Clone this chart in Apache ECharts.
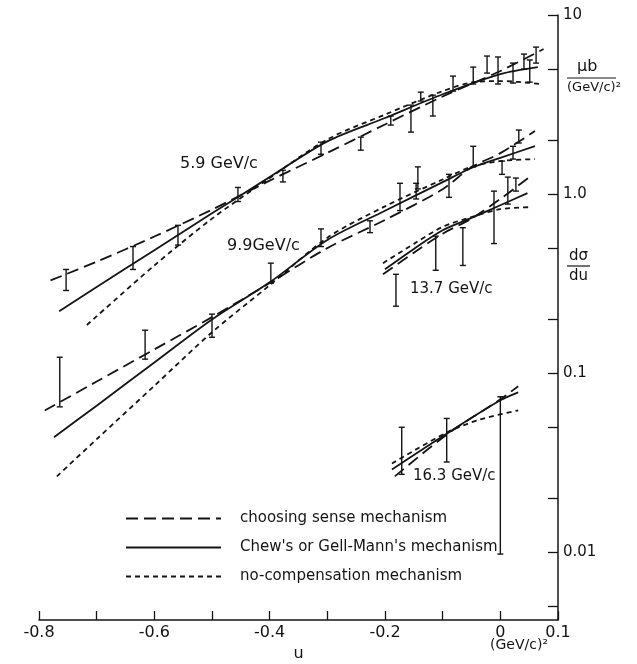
<!DOCTYPE html>
<html>
<head>
<meta charset="utf-8">
<script src="https://cdn.jsdelivr.net/npm/echarts@6/dist/echarts.min.js"></script>
<style>
  html, body { margin: 0; padding: 0; background: #fff; }
  #chart { width: 637px; height: 664px; }
</style>
</head>
<body>
<div id="chart"></div>
<script>
// axis ticks and labels
const xLabelValues = [-0.8, -0.6, -0.4, -0.2, 0, 0.1];
const xLabels = ['-0.8', '-0.6', '-0.4', '-0.2', '0', '0.1'];
const yTickValues = [0.005, 0.01, 0.02, 0.05, 0.1, 0.2, 0.5, 1, 2, 5, 10];
const yLabelValues = [0.01, 0.1, 1, 10];
const yLabels = ['0.01', '0.1', '1.0', '10'];

const mechanisms = ['choosing sense mechanism', "Chew's or Gell-Mann's mechanism", 'no-compensation mechanism'];

// measured points: [u, low, high]
const bars59 = [
  [-0.753, 0.29, 0.38], [-0.637, 0.38, 0.51], [-0.559, 0.52, 0.67], [-0.455, 0.91, 1.09],
  [-0.377, 1.17, 1.36], [-0.311, 1.67, 1.95], [-0.242, 1.76, 2.08], [-0.190, 2.43, 2.73],
  [-0.155, 2.22, 3.14], [-0.138, 3.31, 3.71], [-0.117, 2.73, 3.57], [-0.082, 3.76, 4.56],
  [-0.047, 4.12, 5.12], [-0.023, 4.74, 5.90], [-0.004, 4.12, 5.83], [0.022, 4.17, 5.39],
  [0.041, 4.99, 6.05], [0.051, 4.22, 5.61], [0.062, 5.39, 6.62]
];
const bars99 = [
  [-0.764, 0.065, 0.123], [-0.616, 0.120, 0.174], [-0.500, 0.159, 0.214], [-0.398, 0.318, 0.412],
  [-0.311, 0.51, 0.64], [-0.226, 0.61, 0.71], [-0.174, 0.81, 1.15], [-0.143, 1.07, 1.42],
  [-0.146, 0.94, 1.15], [-0.089, 0.96, 1.29], [-0.047, 1.42, 1.85], [0.003, 1.29, 1.53],
  [0.022, 1.57, 1.85], [0.032, 1.93, 2.28]
];
const bars137 = [
  [-0.181, 0.237, 0.357], [-0.112, 0.376, 0.583], [-0.065, 0.40, 0.65],
  [-0.011, 0.53, 1.04], [0.013, 0.88, 1.245], [0.027, 1.04, 1.23]
];
const bars163 = [
  [-0.171, 0.0273, 0.050], [-0.093, 0.032, 0.056], [0, 0.0098, 0.074]
];

// model curves: [u, dsigma/du]
const long59 = [[-0.78, 0.33], [-0.7, 0.42], [-0.6, 0.58], [-0.5, 0.82], [-0.4, 1.19], [-0.3, 1.70], [-0.2, 2.45], [-0.1, 3.51], [0, 4.87], [0.075, 6.46]];
const solid59 = [[-0.765, 0.222], [-0.7, 0.303], [-0.6, 0.487], [-0.5, 0.782], [-0.4, 1.245], [-0.3, 1.97], [-0.2, 2.66], [-0.1, 3.61], [0, 4.68], [0.065, 5.12]];
const short59 = [[-0.717, 0.186], [-0.6, 0.40], [-0.5, 0.73], [-0.4, 1.23], [-0.3, 2.02], [-0.2, 2.78], [-0.1, 3.76], [-0.05, 4.20], [0, 4.28], [0.07, 4.12]];

const long99 = [[-0.79, 0.062], [-0.7, 0.090], [-0.6, 0.136], [-0.5, 0.206], [-0.4, 0.319], [-0.3, 0.500], [-0.2, 0.718], [-0.1, 1.066], [-0.05, 1.415], [0, 1.694], [0.06, 2.25]];
const solid99 = [[-0.774, 0.044], [-0.7, 0.066], [-0.6, 0.115], [-0.5, 0.200], [-0.4, 0.322], [-0.3, 0.555], [-0.2, 0.808], [-0.1, 1.167], [-0.05, 1.40], [0, 1.595], [0.06, 1.854]];
const short99 = [[-0.769, 0.0266], [-0.7, 0.0429], [-0.6, 0.0852], [-0.5, 0.1695], [-0.4, 0.310], [-0.3, 0.571], [-0.2, 0.855], [-0.1, 1.208], [-0.05, 1.422], [0, 1.53], [0.06, 1.569]];

const long137 = [[-0.2035, 0.357], [-0.15, 0.471], [-0.1, 0.602], [-0.05, 0.731], [0, 0.941], [0.055, 1.277]];
const solid137 = [[-0.2, 0.381], [-0.15, 0.495], [-0.1, 0.629], [-0.05, 0.737], [0, 0.867], [0.047, 1.013]];
const short137 = [[-0.2035, 0.412], [-0.15, 0.528], [-0.1, 0.657], [-0.05, 0.745], [0, 0.824], [0.052, 0.846]];

const long163 = [[-0.183, 0.0266], [-0.0925, 0.0456], [0, 0.0716], [0.031, 0.0846]];
const solid163 = [[-0.188, 0.0291], [-0.0925, 0.0462], [0, 0.0707], [0.031, 0.0783]];
const short163 = [[-0.188, 0.0314], [-0.0925, 0.0468], [-0.035, 0.0553], [0.031, 0.0621]];

const INK = '#141414';
const LONG_DASH = [12, 6];
const SHORT_DASH = [5, 4];

function curve(name, data, dash) {
  return {
    type: 'line', name: name, data: data, symbol: 'none', smooth: 0.3,
    silent: true,
    itemStyle: { color: INK },
    lineStyle: { color: INK, width: 1.8, type: dash }
  };
}

function errorBars(data) {
  return {
    type: 'custom',
    data: data,
    silent: true,
    renderItem: function (params, api) {
      const lo = api.coord([api.value(0), api.value(1)]);
      const hi = api.coord([api.value(0), api.value(2)]);
      const w = 3;
      const style = { stroke: INK, lineWidth: 1.4 };
      return {
        type: 'group',
        children: [
          { type: 'line', shape: { x1: lo[0], y1: lo[1], x2: hi[0], y2: hi[1] }, style: style },
          { type: 'line', shape: { x1: lo[0] - w, y1: lo[1], x2: lo[0] + w, y2: lo[1] }, style: style },
          { type: 'line', shape: { x1: hi[0] - w, y1: hi[1], x2: hi[0] + w, y2: hi[1] }, style: style }
        ]
      };
    }
  };
}

function pickLabel(values, labels, v) {
  for (let i = 0; i < values.length; i++) {
    if (Math.abs(values[i] - v) < 1e-6 * Math.max(1, Math.abs(v))) return labels[i];
  }
  return '';
}

const chart = echarts.init(document.getElementById('chart'));
const font = 'DejaVu Sans';

chart.setOption({
  animation: false,
  backgroundColor: '#fff',
  textStyle: { fontFamily: font, color: INK },
  grid: { left: 39, right: 79, top: 15, bottom: 44, outerBoundsMode: 'none' },
  xAxis: {
    type: 'value', min: -0.8, max: 0.1, interval: 0.1,
    name: 'u', nameLocation: 'middle', nameGap: 19,
    nameTextStyle: { fontSize: 16, color: INK, fontFamily: font },
    axisLine: { lineStyle: { color: INK, width: 1.5 } },
    axisTick: { inside: true, length: 9, lineStyle: { color: INK, width: 1.3 } },
    axisLabel: {
      customValues: xLabelValues, fontSize: 16, color: INK, margin: 5,
      formatter: function (v) { return pickLabel(xLabelValues, xLabels, v); }
    },
    splitLine: { show: false }
  },
  yAxis: {
    type: 'log', logBase: 10, min: 0.0042, max: 10, position: 'right',
    axisLine: { show: true, onZero: false, lineStyle: { color: INK, width: 1.5 } },
    axisTick: { show: true, inside: true, length: 10, customValues: yTickValues, lineStyle: { color: INK, width: 1.3 } },
    axisLabel: {
      customValues: yLabelValues, fontSize: 15, color: INK, margin: 5,
      formatter: function (v) { return pickLabel(yLabelValues, yLabels, v); }
    },
    splitLine: { show: false }
  },
  legend: {
    data: mechanisms, orient: 'vertical', left: 125, top: 511, padding: 0,
    itemWidth: 95, itemHeight: 14, itemGap: 14, selectedMode: false,
    itemStyle: { opacity: 0 },
    textStyle: { fontSize: 15, color: INK, fontFamily: font, lineHeight: 14, padding: [0, 0, 0, 14] }
  },
  graphic: [
    { type: 'text', left: 180, top: 156, style: { text: '5.9 GeV/c', font: '16px "DejaVu Sans"', fill: INK } },
    { type: 'text', left: 227, top: 238, style: { text: '9.9GeV/c', font: '16px "DejaVu Sans"', fill: INK } },
    { type: 'text', left: 410, top: 282, style: { text: '13.7 GeV/c', font: '15px "DejaVu Sans"', fill: INK } },
    { type: 'text', left: 413, top: 469, style: { text: '16.3 GeV/c', font: '15px "DejaVu Sans"', fill: INK } },
    { type: 'text', left: 490, top: 638, style: { text: '(GeV/c)²', font: '14px "DejaVu Sans"', fill: INK } },
    { type: 'text', left: 577, top: 59, style: { text: 'μb', font: '16px "DejaVu Sans"', fill: INK } },
    { type: 'line', shape: { x1: 567, y1: 78, x2: 616, y2: 78 }, style: { stroke: INK, lineWidth: 1.2 } },
    { type: 'text', left: 567, top: 81, style: { text: '(GeV/c)²', font: '13px "DejaVu Sans"', fill: INK } },
    { type: 'text', left: 569, top: 249, style: { text: 'dσ', font: '15px "DejaVu Sans"', fill: INK } },
    { type: 'line', shape: { x1: 567, y1: 266, x2: 590, y2: 266 }, style: { stroke: INK, lineWidth: 1.2 } },
    { type: 'text', left: 569, top: 269, style: { text: 'du', font: '15px "DejaVu Sans"', fill: INK } }
  ],
  series: [
    curve(mechanisms[0], long59, LONG_DASH),
    curve(mechanisms[1], solid59, 'solid'),
    curve(mechanisms[2], short59, SHORT_DASH),
    curve(mechanisms[0], long99, LONG_DASH),
    curve(mechanisms[1], solid99, 'solid'),
    curve(mechanisms[2], short99, SHORT_DASH),
    curve(mechanisms[0], long137, LONG_DASH),
    curve(mechanisms[1], solid137, 'solid'),
    curve(mechanisms[2], short137, SHORT_DASH),
    curve(mechanisms[0], long163, LONG_DASH),
    curve(mechanisms[1], solid163, 'solid'),
    curve(mechanisms[2], short163, SHORT_DASH),
    errorBars(bars59),
    errorBars(bars99),
    errorBars(bars137),
    errorBars(bars163)
  ]
});
</script>
</body>
</html>
